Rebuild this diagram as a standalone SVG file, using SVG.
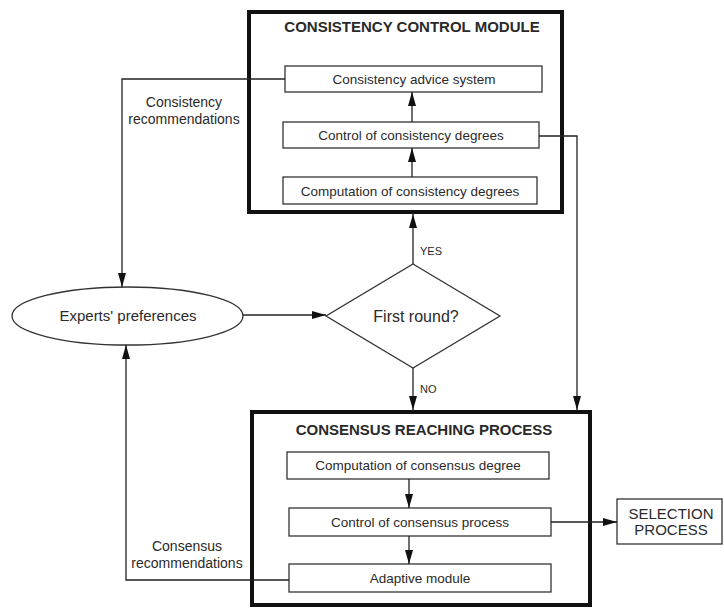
<svg xmlns="http://www.w3.org/2000/svg" width="724" height="608" viewBox="0 0 724 608">
<defs>
<marker id="ahl" viewBox="0 0 14 10" refX="14" refY="5" markerWidth="14" markerHeight="10" markerUnits="userSpaceOnUse" orient="auto">
<path d="M0,1 L14,5 L0,9 Z" fill="#111"/>
</marker>
</defs>
<style>
text{font-family:"Liberation Sans",Arial,sans-serif;fill:#2a2a2a;text-anchor:middle}
.big{stroke:#111;stroke-width:4;fill:#fff}
.box{stroke:#333;stroke-width:1.3;fill:#fff}
.t{font-size:13.5px}
.h{font-size:15px;font-weight:bold}
.l{font-size:15px}
.r{font-size:14px}
.c{stroke:#222;stroke-width:1.3;fill:none}
</style>
<g id="consistency-module">
<rect class="big" x="249" y="12" width="313" height="200"/>
<text class="h" x="412" y="32">CONSISTENCY CONTROL MODULE</text>
</g>
<g id="advice">
<rect class="box" x="285" y="66" width="257" height="26"/>
<text class="t" x="414" y="84">Consistency advice system</text>
</g>
<g id="control-consistency">
<rect class="box" x="283" y="122" width="256" height="26"/>
<text class="t" x="411" y="140">Control of consistency degrees</text>
</g>
<g id="computation-consistency">
<rect class="box" x="283" y="177" width="254" height="27"/>
<text class="t" x="410" y="196">Computation of consistency degrees</text>
</g>
<g id="consensus-process">
<rect class="big" x="252" y="412" width="338" height="193"/>
<text class="h" x="424" y="435">CONSENSUS REACHING PROCESS</text>
</g>
<g id="computation-consensus">
<rect class="box" x="287" y="452" width="262" height="27"/>
<text class="t" x="418" y="470">Computation of consensus degree</text>
</g>
<g id="control-consensus">
<rect class="box" x="289" y="508" width="262" height="28"/>
<text class="t" x="420" y="527">Control of consensus process</text>
</g>
<g id="adaptive">
<rect class="box" x="289" y="564" width="262" height="28"/>
<text class="t" x="420" y="583">Adaptive module</text>
</g>
<g id="experts">
<ellipse class="box" cx="127.5" cy="316" rx="115.5" ry="29"/>
<text class="l" x="128" y="321">Experts' preferences</text>
</g>
<g id="first-round">
<polygon class="box" points="413,264 500,316 413,368 326,316"/>
<text x="416" y="322" style="font-size:16px">First round?</text>
</g>
<g id="selection">
<rect class="box" x="617" y="499" width="105" height="45"/>
<text class="l" x="671" y="519">SELECTION</text>
<text class="l" x="671" y="535">PROCESS</text>
</g>
<g id="connectors">
<path class="c" d="M412,177 V148" marker-end="url(#ahl)"/>
<path class="c" d="M412,122 V92" marker-end="url(#ahl)"/>
<path class="c" d="M285,79 H122 V287" marker-end="url(#ahl)"/>
<path class="c" d="M539,136 H577 V410" marker-end="url(#ahl)"/>
<path class="c" d="M243,315 H326" marker-end="url(#ahl)"/>
<path class="c" d="M413,264 V214" marker-end="url(#ahl)"/>
<path class="c" d="M413,368 V410" marker-end="url(#ahl)"/>
<path class="c" d="M409,479 V508" marker-end="url(#ahl)"/>
<path class="c" d="M409,536 V564" marker-end="url(#ahl)"/>
<path class="c" d="M551,522 H617" marker-end="url(#ahl)"/>
<path class="c" d="M289,580 H126 V345" marker-end="url(#ahl)"/>
<text x="184" y="107" class="r">Consistency</text>
<text x="184" y="124" class="r">recommendations</text>
<text x="187" y="551" class="r">Consensus</text>
<text x="187" y="568" class="r">recommendations</text>
<text x="420" y="255" style="font-size:11px;text-anchor:start">YES</text>
<text x="420" y="393" style="font-size:11px;text-anchor:start">NO</text>
</g>
</svg>
